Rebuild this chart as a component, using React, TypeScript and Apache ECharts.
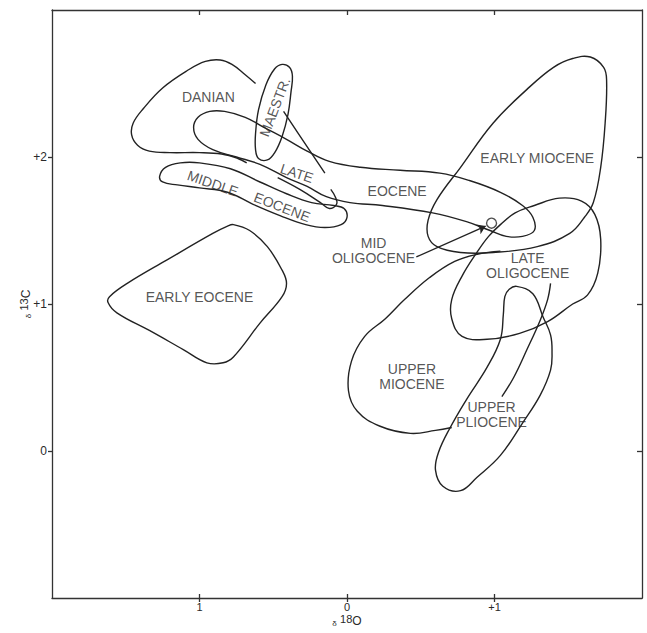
import React, { useEffect, useRef } from 'react';
import * as echarts from 'echarts';

type Pt = [number, number];

// δ18O (x) , δ13C (y) outlines
const danian: Pt[] = [
  [-0.62, 2.5], [-0.69, 2.56], [-0.78, 2.63], [-0.86, 2.66], [-0.96, 2.65], [-1.08, 2.59],
  [-1.25, 2.47], [-1.38, 2.33], [-1.45, 2.23], [-1.46, 2.15], [-1.42, 2.08], [-1.34, 2.04],
  [-1.2, 2.03], [-1.0, 2.03], [-0.85, 2.02], [-0.74, 1.99], [-0.68, 1.96],
];
const maestrichtian: Pt[] = [
  [-0.44, 2.63], [-0.39, 2.61], [-0.37, 2.55], [-0.38, 2.44], [-0.4, 2.29], [-0.44, 2.14],
  [-0.49, 2.03], [-0.54, 1.98], [-0.6, 1.99], [-0.62, 2.05], [-0.62, 2.16], [-0.6, 2.32],
  [-0.55, 2.49], [-0.49, 2.6],
];
const maestrichtianTail: Pt[] = [[-0.43, 2.31], [-0.29, 2.1], [-0.15, 1.89]];
const lateEocene: Pt[] = [
  [-1.04, 2.2], [-1.01, 2.27], [-0.93, 2.31], [-0.83, 2.31], [-0.69, 2.27], [-0.56, 2.2],
  [-0.41, 2.12], [-0.27, 2.04], [-0.12, 1.97], [0.09, 1.93], [0.36, 1.91], [0.63, 1.89],
  [0.83, 1.84], [1.04, 1.76], [1.19, 1.67], [1.26, 1.59], [1.27, 1.5], [1.19, 1.46],
  [1.08, 1.46], [0.97, 1.5], [0.81, 1.56], [0.58, 1.62], [0.24, 1.67], [0.02, 1.69],
  [-0.14, 1.73], [-0.27, 1.8], [-0.41, 1.86], [-0.59, 1.95], [-0.75, 2.0], [-0.91, 2.05],
  [-1.01, 2.12],
];
const lateEoceneHook: Pt[] = [
  [-0.47, 1.86], [-0.32, 1.78], [-0.18, 1.69], [-0.12, 1.65], [-0.07, 1.68], [-0.08, 1.73], [-0.11, 1.78],
];
const middleEocene: Pt[] = [
  [-1.27, 1.87], [-1.23, 1.93], [-1.13, 1.96], [-1.0, 1.96], [-0.79, 1.92], [-0.59, 1.83],
  [-0.41, 1.75], [-0.24, 1.69], [-0.09, 1.67], [-0.02, 1.65], [0.0, 1.59], [-0.04, 1.54],
  [-0.15, 1.52], [-0.28, 1.54], [-0.45, 1.6], [-0.64, 1.68], [-0.81, 1.76], [-1.0, 1.79],
  [-1.15, 1.81], [-1.25, 1.83],
];
const earlyEocene: Pt[] = [
  [-0.77, 1.54], [-0.66, 1.5], [-0.54, 1.39], [-0.44, 1.23], [-0.41, 1.14], [-0.44, 1.05],
  [-0.59, 0.87], [-0.77, 0.64], [-0.84, 0.6], [-0.95, 0.6], [-1.11, 0.69], [-1.34, 0.82],
  [-1.56, 0.94], [-1.62, 1.01], [-1.61, 1.05], [-1.49, 1.14], [-1.22, 1.3], [-0.91, 1.48],
  [-0.81, 1.53],
];
const earlyMiocene: Pt[] = [
  [1.65, 2.68], [1.74, 2.61], [1.76, 2.52], [1.75, 2.23], [1.72, 1.93], [1.67, 1.69],
  [1.61, 1.59], [1.51, 1.48], [1.29, 1.39], [0.99, 1.35], [0.77, 1.35], [0.61, 1.39],
  [0.55, 1.46], [0.55, 1.57], [0.61, 1.71], [0.77, 1.93], [0.99, 2.23], [1.22, 2.46],
  [1.4, 2.61], [1.53, 2.67],
];
const lateOligocene: Pt[] = [
  [0.88, 1.35], [0.96, 1.46], [1.04, 1.54], [1.14, 1.62], [1.27, 1.67], [1.44, 1.72],
  [1.59, 1.7], [1.68, 1.61], [1.72, 1.44], [1.7, 1.21], [1.63, 1.06], [1.53, 1.0],
  [1.36, 0.88], [1.17, 0.8], [0.95, 0.76], [0.78, 0.78], [0.71, 0.9], [0.71, 1.03],
  [0.78, 1.19],
];
const upperMiocene: Pt[] = [
  [1.04, 1.36], [0.89, 1.34], [0.73, 1.29], [0.56, 1.18], [0.39, 1.03], [0.26, 0.9],
  [0.12, 0.78], [0.03, 0.61], [0.01, 0.41], [0.07, 0.27], [0.22, 0.17], [0.43, 0.12],
  [0.6, 0.14], [0.71, 0.16],
];
const upperPliocene: Pt[] = [
  [1.15, 1.12], [1.26, 1.07], [1.33, 0.91], [1.38, 0.79], [1.39, 0.67], [1.38, 0.55],
  [1.31, 0.38], [1.19, 0.19], [1.04, -0.03], [0.88, -0.18], [0.77, -0.27], [0.65, -0.24],
  [0.6, -0.13], [0.62, -0.01], [0.7, 0.16], [0.81, 0.35], [0.95, 0.57], [1.04, 0.76],
  [1.06, 0.93], [1.07, 1.05], [1.1, 1.1],
];
const plioceneLeader: Pt[] = [[1.38, 1.14], [1.36, 1.03], [1.31, 0.89], [1.22, 0.69], [1.13, 0.5], [1.05, 0.37]];
const midOligoceneArrow: Pt[] = [[0.47, 1.32], [0.94, 1.53]];
const midOligocenePoint: Pt[] = [[0.98, 1.55]];

const closedOutlines: Pt[][] = [maestrichtian, lateEocene, middleEocene, earlyEocene, earlyMiocene, lateOligocene, upperPliocene];
const openOutlines: Pt[][] = [danian, maestrichtianTail, lateEoceneHook, upperMiocene, plioceneLeader];

// [text, x, y, rotation]
const regionLabels: [string, number, number, number][] = [
  ['DANIAN', -0.94, 2.41, 0],
  ['MAESTR.', -0.49, 2.34, 69],
  ['LATE', -0.34, 1.89, -18],
  ['MIDDLE', -0.91, 1.82, -19],
  ['EOCENE', -0.44, 1.66, -21],
  ['EOCENE', 0.34, 1.77, 0],
  ['EARLY EOCENE', -1.0, 1.05, 0],
  ['EARLY MIOCENE', 1.29, 1.99, 0],
  ['MID\nOLIGOCENE', 0.18, 1.365, 0],
  ['LATE\nOLIGOCENE', 1.225, 1.26, 0],
  ['UPPER\nMIOCENE', 0.44, 0.51, 0],
  ['UPPER\nPLIOCENE', 0.98, 0.245, 0],
];

const xTickValues = [-1, 0, 1];
const xTickLabels = ['1', '0', '+1'];
const yTickValues = [0, 1, 2];
const yTickLabels = ['0', '+1', '+2'];

const INK = '#222222';
const FRAME = '#333333';
const TEXT = '#2a2a2a';
const FONT = '"Liberation Sans", Arial, Helvetica, sans-serif';

function outlineSeries(pts: Pt[], closed: boolean) {
  return {
    type: 'custom',
    coordinateSystem: 'cartesian2d',
    silent: true,
    clip: false,
    data: pts,
    encode: { x: 0, y: 1 },
    renderItem: (params: any, api: any) => {
      if (params.dataIndex !== 0) return null;
      const coords = pts.map((p) => api.coord(p));
      return {
        type: closed ? 'polygon' : 'polyline',
        shape: { points: coords, smooth: 0.4 },
        style: { fill: 'none', stroke: INK, lineWidth: 1.4 },
      };
    },
  };
}

const nameRich = {
  d: { fontSize: 8, lineHeight: 14, verticalAlign: 'bottom', color: TEXT, fontFamily: FONT },
  s: { fontSize: 11, lineHeight: 14, verticalAlign: 'top', color: TEXT, fontFamily: FONT },
  b: { fontSize: 12, lineHeight: 14, verticalAlign: 'bottom', color: TEXT, fontFamily: FONT },
};

export default function App() {
  const ref = useRef<HTMLDivElement>(null);
  useEffect(() => {
    document.body.style.margin = '0';
    const chart = echarts.init(ref.current!, undefined, { renderer: 'svg' });
    const lineStyle = { color: FRAME, width: 1.3 };
    const baseAxis = { type: 'value', splitLine: { show: false } };
    chart.setOption({
      animation: false,
      backgroundColor: '#ffffff',
      grid: { left: 52, right: 5, top: 10, bottom: 35 },
      xAxis: [
        {
          ...baseAxis,
          min: -2, max: 2, interval: 1, position: 'bottom',
          axisLine: { show: true, onZero: false, lineStyle },
          axisTick: { show: true, length: 4, customValues: xTickValues, lineStyle },
          axisLabel: {
            customValues: xTickValues, margin: 3, color: TEXT, fontSize: 11, fontFamily: FONT,
            formatter: (v: number) => xTickLabels[xTickValues.indexOf(v)] ?? '',
          },
          name: '{d|δ} {s|18}{b|O}',
          nameLocation: 'middle',
          nameGap: 15,
          nameMoveOverlap: false,
          nameTextStyle: { color: TEXT, fontFamily: FONT, rich: nameRich },
        },
        {
          ...baseAxis,
          min: -2, max: 2, interval: 1, position: 'top',
          axisLine: { show: true, onZero: false, lineStyle },
          axisTick: { show: true, inside: true, length: 5, customValues: xTickValues, lineStyle },
          axisLabel: { show: false },
        },
        {
          ...baseAxis,
          min: -2, max: 2, interval: 1, position: 'bottom',
          axisLine: { show: false, onZero: false },
          axisTick: { show: true, inside: true, length: 4, customValues: xTickValues, lineStyle },
          axisLabel: { show: false },
        },
      ],
      yAxis: [
        {
          ...baseAxis,
          min: -1, max: 3, interval: 1, position: 'left',
          axisLine: { show: true, onZero: false, lineStyle },
          axisTick: { show: true, length: 4, customValues: yTickValues, lineStyle },
          axisLabel: {
            customValues: yTickValues, margin: 5, color: TEXT, fontSize: 12, fontFamily: FONT,
            formatter: (v: number) => yTickLabels[yTickValues.indexOf(v)] ?? '',
          },
          name: '{d|δ} {s|13}{b|C}',
          nameLocation: 'middle',
          nameRotate: 90,
          nameGap: 20,
          nameMoveOverlap: false,
          nameTextStyle: { color: TEXT, fontFamily: FONT, rich: nameRich },
        },
        {
          ...baseAxis,
          min: -1, max: 3, interval: 1, position: 'right',
          axisLine: { show: true, onZero: false, lineStyle },
          axisTick: { show: true, inside: true, length: 5, customValues: yTickValues, lineStyle },
          axisLabel: { show: false },
        },
      ],
      series: [
        ...closedOutlines.map((p) => outlineSeries(p, true)),
        ...openOutlines.map((p) => outlineSeries(p, false)),
        {
          type: 'lines',
          coordinateSystem: 'cartesian2d',
          silent: true,
          symbol: ['none', 'arrow'],
          symbolSize: [0, 8],
          lineStyle: { color: INK, width: 1.3, opacity: 1 },
          data: [{ coords: midOligoceneArrow }],
        },
        {
          type: 'scatter',
          silent: true,
          symbol: 'circle',
          symbolSize: 10,
          itemStyle: { color: '#ffffff', borderColor: INK, borderWidth: 1.4 },
          data: midOligocenePoint,
          z: 5,
        },
        {
          type: 'scatter',
          silent: true,
          symbolSize: 1,
          itemStyle: { color: 'transparent' },
          label: {
            show: true, position: 'inside', formatter: '{b}', align: 'center',
            color: TEXT, fontSize: 14, lineHeight: 15, fontFamily: FONT,
          },
          data: regionLabels.map(([t, x, y, r]) => ({ name: t, value: [x, y], label: { rotate: r } })),
          z: 6,
        },
      ],
    });
    return () => chart.dispose();
  }, []);
  return (
    <div
      ref={ref}
      style={{ position: 'absolute', left: 0, top: 0, width: 647, height: 633, background: '#fff' }}
    />
  );
}
